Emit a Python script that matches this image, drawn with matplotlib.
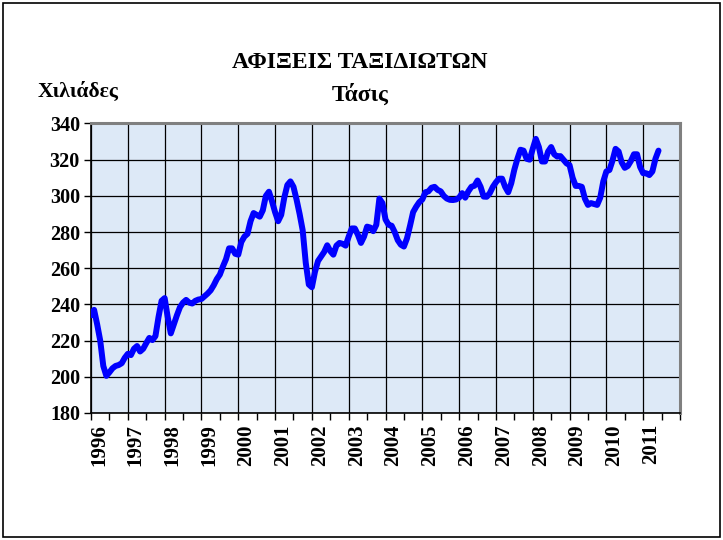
import matplotlib
matplotlib.use("Agg")
import matplotlib.pyplot as plt
import matplotlib.transforms as mtransforms
from matplotlib.patches import Rectangle
from matplotlib.ticker import MultipleLocator
import numpy as np

# Monthly trend values (thousands), Jan 1996 - Jun 2011
values = [
    # 1996
    234, 237, 229, 220, 206, 200.5, 202.5, 204.7, 206, 206.5, 207.5, 210.5,
    # 1997
    212.7, 212, 215.5, 217, 214, 215.5, 218.6, 221.5, 220.3, 222.5, 233, 242,
    # 1998
    243.5, 233, 224, 229, 234, 238.5, 241, 242.5, 241, 240.5, 242, 242.7,
    # 1999
    243, 244.5, 246, 247.8, 250.6, 254, 256.5, 261, 265, 271, 271, 268,
    # 2000
    267.5, 274.5, 277.5, 279, 286, 290.5, 289.5, 288.5, 292, 300, 302.3, 297,
    # 2001
    291, 286, 289.5, 299, 306, 308, 305, 298, 290, 281, 263, 251,
    # 2002
    249.5, 258, 264, 266.5, 269, 272.7, 269.5, 267.5, 272.5, 274, 273.5, 272.5,
    # 2003
    277.5, 282, 282, 278.5, 274, 277.5, 283, 282.5, 280.5, 284, 298.5, 296,
    # 2004
    287, 284, 283.5, 280, 275.5, 273, 272, 276.5, 283.5, 291, 294, 296.5,
    # 2005
    298, 302, 302.5, 304.5, 305, 303.3, 302.5, 300, 298.5, 297.8, 297.7, 298,
    # 2006
    299, 301.5, 299, 302.5, 305, 305.6, 308.5, 305, 299.6, 299.5, 301.5, 305,
    # 2007
    307.5, 309.5, 309.5, 305, 302, 307, 314.5, 320.5, 325.5, 325, 320.5, 320,
    # 2008
    326, 331.5, 327, 319, 319, 324.5, 327, 323, 321.7, 322, 320, 318,
    # 2009
    317, 310, 305.5, 305.5, 305, 298.5, 295, 296, 295.5, 295, 299, 308,
    # 2010
    313.5, 314.3, 319.5, 326, 324.5, 318.5, 315.5, 316.5, 319.3, 323, 323, 316,
    # 2011
    312.5, 312.5, 311.5, 313.5, 320.5, 325,
]
start_year = 1996
years = list(range(1996, 2012))
year_labels = [str(y) for y in years]
y_ticks = list(range(180, 341, 20))

title_line1 = "ΑΦΙΞΕΙΣ ΤΑΞΙΔΙΩΤΩΝ"
title_line2 = "Τάσις"
y_unit = "Χιλιάδες"

plt.rcParams['font.family'] = ['Liberation Serif', 'DejaVu Serif']
plt.rcParams['font.weight'] = 'bold'

fig = plt.figure(figsize=(7.23, 5.40), dpi=100)
fig.patch.set_facecolor('white')
fig.patches.append(Rectangle((0.004, 0.005), 0.992, 0.99, transform=fig.transFigure,
                             fill=False, edgecolor='black', linewidth=1.2))

ax = fig.add_axes([0.1259, 0.2352, 0.8146, 0.5361])
ax.set_facecolor('#dde9f7')

x = start_year + np.arange(len(values)) / 12.0
ax.plot(x, values, color='#0000ff', linewidth=4.3, solid_joinstyle='round',
        solid_capstyle='round', zorder=3)

ax.set_xlim(1996, 2012)
ax.set_ylim(180, 340)
ax.set_yticks(y_ticks)
ax.set_yticklabels([str(v) for v in y_ticks], fontsize=14.5, fontweight='bold')
ax.set_xticks(years)
ax.set_xticklabels(year_labels, rotation=90, fontsize=15, fontweight='bold')
ax.xaxis.set_minor_locator(MultipleLocator(0.5))
ax.tick_params(axis='x', which='both', direction='out', length=5, width=1, pad=3)
ax.tick_params(axis='y', direction='out', length=5, width=1, pad=3)

offset = mtransforms.ScaledTranslation(8 / 100, 0, fig.dpi_scale_trans)
for lbl in ax.get_xticklabels():
    lbl.set_transform(lbl.get_transform() + offset)

ax.grid(True, which='major', color='black', linewidth=0.9)
ax.set_axisbelow(True)
for side in ['left', 'bottom']:
    ax.spines[side].set_color('black')
    ax.spines[side].set_linewidth(1.2)
for side in ['top', 'right']:
    ax.spines[side].set_color('#808080')
    ax.spines[side].set_linewidth(2.2)

fig.text(360 / 723, 1 - 63 / 540, title_line1, ha='center', va='center',
         fontsize=17, fontweight='bold')
fig.text(360 / 723, 1 - 95 / 540, title_line2, ha='center', va='center',
         fontsize=17, fontweight='bold')
fig.text(38 / 723, 1 - 92 / 540, y_unit, ha='left', va='center',
         fontsize=15.5, fontweight='bold')

fig.savefig('out.png', dpi=100)
